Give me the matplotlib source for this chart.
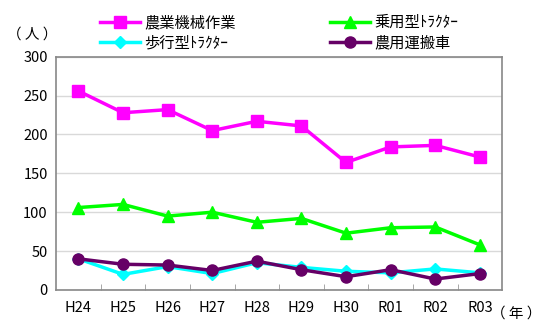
import matplotlib
matplotlib.use("Agg")
import matplotlib.pyplot as plt

plt.rcParams['font.family'] = ['Noto Sans CJK JP', 'DejaVu Sans']

years = ["H24", "H25", "H26", "H27", "H28", "H29", "H30", "R01", "R02", "R03"]
farm_work = [256, 228, 232, 205, 217, 211, 164, 184, 186, 171]
riding_tractor = [106, 110, 95, 100, 87, 92, 73, 80, 81, 58]
walking_tractor = [40, 20, 30, 21, 35, 29, 24, 22, 27, 22]
transport_car = [40, 33, 32, 25, 37, 26, 17, 26, 14, 21]

fig = plt.figure(figsize=(5.5, 3.34), dpi=100)
ax = fig.add_axes([0.102, 0.132, 0.811, 0.698])

x = list(range(len(years)))
l1, = ax.plot(x, farm_work, color='#ff00ff', lw=2.5, marker='s', ms=8,
              label='農業機械作業', zorder=3)
l3, = ax.plot(x, walking_tractor, color='#00ffff', lw=2.5, marker='D', ms=6,
              label='歩行型ﾄﾗｸﾀｰ', zorder=3)
l2, = ax.plot(x, riding_tractor, color='#00ff00', lw=2.5, marker='^', ms=9,
              label='乗用型ﾄﾗｸﾀｰ', zorder=3)
l4, = ax.plot(x, transport_car, color='#660066', lw=2.5, marker='o', ms=8,
              label='農用運搬車', zorder=4)

ax.set_xlim(-0.5, len(years) - 0.5)
ax.set_ylim(0, 300)
ax.set_yticks(range(0, 301, 50))
ax.set_xticks(x)
ax.set_xticklabels(years)
ax.set_xticks([i + 0.5 for i in range(len(years) - 1)], minor=True)
ax.tick_params(axis='x', which='major', length=0, pad=8, labelsize=10.5)
ax.tick_params(axis='x', which='minor', direction='in', length=4,
               color='#999999')
ax.tick_params(axis='y', length=0, pad=6, labelsize=10.5)
ax.grid(axis='y', color='#d9d9d9', lw=1)
ax.set_axisbelow(True)
for s in ax.spines.values():
    s.set_color('#888888')
    s.set_linewidth(1.2)

fig.text(0.012, 0.895, '（ 人 ）', fontsize=10.5, va='center')
fig.text(0.985, 0.062, '（ 年 ）', fontsize=10.5, va='center', ha='right')

fig.legend(handles=[l1, l3, l2, l4], ncol=2, loc='upper left',
           bbox_to_anchor=(0.165, 0.985), frameon=False, fontsize=11,
           handlelength=2.6, columnspacing=6.2, labelspacing=0.2,
           handletextpad=0.3, borderaxespad=0.2)

fig.savefig('out.png', dpi=100)
